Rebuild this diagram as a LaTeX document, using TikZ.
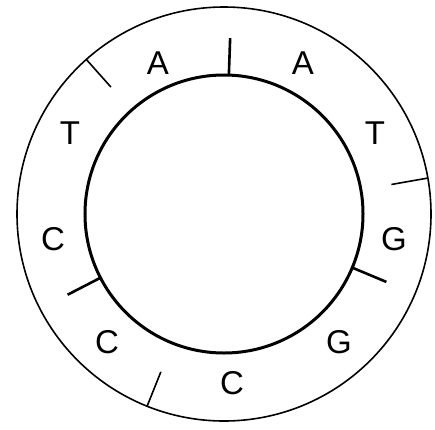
\documentclass[tikz,border=0pt]{standalone}
\usepackage{fontspec}
\setmainfont{Liberation Sans}

\begin{document}
\begin{tikzpicture}[
    x=1pt, y=1pt,
    base/.style={font=\fontsize{33}{33}\selectfont, inner sep=0pt},
    strand/.style={line width=3pt},
    backbone/.style={line width=1.6pt},
    innertick/.style={line width=2.6pt},
    outertick/.style={line width=1.6pt}
]
\useasboundingbox (-224,-215) rectangle (211,214);

% Strands
\coordinate (centre) at (0,0);
\draw[backbone] (centre) circle (207);
\draw[strand] (centre) circle (139);

% Ticks on the inner strand
\foreach \ang in {88,-22.7,207.3}
  \draw[innertick] (\ang:139) -- (\ang:176);

% Ticks on the outer strand
\foreach \ang in {131.7,10,248.2}
  \draw[outertick] (\ang:207) -- (\ang:170);

% Bases
\node[base] (a1) at (-66,151) {A};
\node[base] (a2) at (79,151) {A};
\node[base] (t1) at (-154,81) {T};
\node[base] (t2) at (151,81) {T};
\node[base] (c1) at (-171,-25) {C};
\node[base] (g1) at (170,-25) {G};
\node[base] (c2) at (-117,-128) {C};
\node[base] (g2) at (115,-128) {G};
\node[base] (c3) at (8,-169) {C};

\end{tikzpicture}
\end{document}
